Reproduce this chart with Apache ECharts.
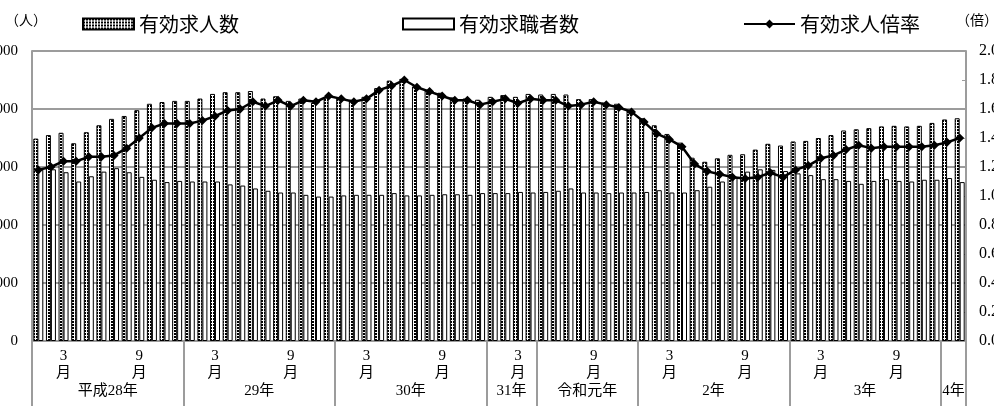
<!DOCTYPE html>
<html><head><meta charset="utf-8">
<script src="https://cdn.jsdelivr.net/npm/echarts@6/dist/echarts.min.js"></script>
<style>html,body{margin:0;padding:0;background:#fff}#c{width:994px;height:406px}</style>
</head><body><div id="c"></div>
<script>
// ---- data ----
const yearNames  = ['平成28年','29年','30年','31年','令和元年','2年','3年','4年'];
const yearStart  = [1,1,1,1,5,1,1,1];
const yearCount  = [12,12,12,4,8,12,12,2];
const shownMonths = [3, 9];

// 有効求人数 (persons)
const openings = [34900,35500,35900,34100,36000,37200,38300,38800,39800,40900,41200,41400,
                  41400,41800,42600,42900,42900,43100,41800,42200,41400,41800,41100,42000,
                  41900,41600,42100,43600,44900,45200,43900,43300,42800,42000,41800,41600,
                  42100,42400,42100,42600,
                  42500,42600,42500,41700,41700,41100,40900,39900,
                  38400,37200,35700,34200,31600,30900,31500,32100,32200,33000,34000,33700,
                  34400,34500,35000,35500,36300,36500,36700,37000,37100,37000,37100,37600,
                  38200,38400];
// 有効求職者数 (persons)
const seekers  = [29600,29600,29100,27500,28400,29200,29800,29100,28300,27800,27400,27600,
                  27500,27500,27500,27000,26800,26300,25900,25600,25600,25200,24900,24900,
                  25100,25200,25200,25200,25500,25100,25100,25200,25300,25300,25200,25500,
                  25500,25500,25700,25600,
                  25700,25900,26300,25600,25600,25500,25600,25600,
                  25700,26000,25600,25600,26000,26600,27500,28200,29200,29600,29500,29300,
                  28900,28600,27900,27900,27600,27100,27600,27900,27600,27500,27800,27800,
                  28100,27400];
// 有効求人倍率 (times)
const ratio    = [1.18,1.20,1.24,1.24,1.27,1.27,1.28,1.33,1.40,1.47,1.50,1.50,
                  1.50,1.52,1.55,1.59,1.60,1.65,1.62,1.66,1.62,1.66,1.65,1.69,
                  1.67,1.65,1.67,1.73,1.76,1.80,1.75,1.72,1.69,1.66,1.66,1.63,
                  1.65,1.67,1.64,1.67,
                  1.66,1.66,1.62,1.63,1.65,1.63,1.61,1.58,
                  1.51,1.43,1.39,1.34,1.22,1.17,1.15,1.13,1.12,1.13,1.16,1.13,
                  1.18,1.21,1.26,1.28,1.32,1.35,1.33,1.34,1.34,1.34,1.34,1.35,
                  1.37,1.40];

// ---- derived category structure ----
const months = [], monthNum = [];
yearNames.forEach((y, s) => {
  for (let k = 0; k < yearCount[s]; k++) {
    const m = yearStart[s] + k;
    months.push(y + m + '月'); monthNum.push(m);
  }
});
const boundaries = [0];
yearCount.forEach(c => boundaries.push(boundaries[boundaries.length - 1] + c));
const yearLabelAt = {};
yearNames.forEach((y, s) => { yearLabelAt[boundaries[s] + yearCount[s] / 2] = y; });
const boundaryAxis = [];
for (let i = 0; i <= months.length; i++) boundaryAxis.push(String(i));

// ---- styles ----
const pc = document.createElement('canvas');
pc.width = 3; pc.height = 3;
const g = pc.getContext('2d');
g.fillStyle = '#fff'; g.fillRect(0, 0, 3, 3);
g.fillStyle = '#000'; g.fillRect(0, 0, 2, 2);
const dots = { image: pc, repeat: 'repeat' };

const FONT = "'Liberation Serif', 'Noto Sans CJK JP', serif";
const CJK = "'Noto Sans CJK JP', sans-serif";
const GRAY = '#9c9c9c';

const chart = echarts.init(document.getElementById('c'), null, { renderer: 'canvas' });
chart.setOption({
  animation: false,
  title: [
    { text: '（人）', left: 0, top: 8, textStyle: { fontSize: 14, fontWeight: 'normal', color: '#000', fontFamily: CJK } },
    { text: '（倍）', left: 951, top: 8, textStyle: { fontSize: 14, fontWeight: 'normal', color: '#000', fontFamily: CJK } }
  ],
  legend: [
    { data: ['有効求人数'], left: 77, top: 9, icon: 'rect', itemWidth: 51, itemHeight: 11, selectedMode: false,
      textStyle: { fontSize: 20, color: '#000', fontFamily: CJK } },
    { data: ['有効求職者数'], left: 397, top: 9, icon: 'rect', itemWidth: 51, itemHeight: 11, selectedMode: false,
      textStyle: { fontSize: 20, color: '#000', fontFamily: CJK } },
    { data: ['有効求人倍率'], left: 738, top: 9, itemWidth: 51, itemHeight: 11, selectedMode: false,
      textStyle: { fontSize: 20, color: '#000', fontFamily: CJK } }
  ],
  grid: { left: 32, right: 28, top: 51, bottom: 65, containLabel: false, outerBoundsMode: 'none' },
  xAxis: [
    { type: 'category', data: months, position: 'bottom',
      axisLine: { show: true, lineStyle: { color: GRAY, width: 2 } },
      axisTick: { show: false },
      axisLabel: { interval: 0, margin: 7, fontSize: 15, lineHeight: 17, color: '#000', fontFamily: FONT,
        formatter: (v, i) => shownMonths.includes(monthNum[i]) ? monthNum[i] + '\n月' : '' } },
    { type: 'category', data: boundaryAxis, boundaryGap: false, position: 'bottom',
      axisLine: { show: false },
      axisTick: { show: true, inside: false, length: 66, interval: (i) => boundaries.includes(i),
        lineStyle: { color: GRAY, width: 2 } },
      axisLabel: { interval: (i) => yearLabelAt[i] !== undefined, margin: 43, fontSize: 15, color: '#000', fontFamily: FONT,
        formatter: (v, i) => yearLabelAt[i] || '' } }
  ],
  yAxis: [
    { type: 'value', min: 0, max: 50000, interval: 10000, position: 'left',
      axisLine: { show: true, lineStyle: { color: GRAY, width: 2 } },
      axisTick: { show: false },
      splitLine: { show: true, lineStyle: { color: GRAY, width: 2 } },
      axisLabel: { margin: 14, fontSize: 15, color: '#000', fontFamily: FONT,
        formatter: v => v.toLocaleString('en-US') } },
    { type: 'value', min: 0, max: 2, interval: 0.2, position: 'right',
      axisLine: { show: true, lineStyle: { color: GRAY, width: 2 } },
      axisTick: { show: true, inside: true, length: 4, lineStyle: { color: GRAY, width: 1 } },
      splitLine: { show: false },
      axisLabel: { margin: 13, fontSize: 16, color: '#000', fontFamily: FONT,
        formatter: v => v.toFixed(1) } }
  ],
  series: [
    { name: '有効求人数', type: 'bar', data: openings, xAxisIndex: 0, yAxisIndex: 0,
      barWidth: 5, barGap: '0%',
      itemStyle: { color: dots, borderColor: '#000', borderWidth: 1 } },
    { name: '有効求職者数', type: 'bar', data: seekers, xAxisIndex: 0, yAxisIndex: 0,
      barWidth: 5, barGap: '0%',
      itemStyle: { color: '#fff', borderColor: '#000', borderWidth: 1 } },
    { name: '有効求人倍率', type: 'line', data: ratio, xAxisIndex: 0, yAxisIndex: 1,
      symbol: 'diamond', symbolSize: 9, z: 5,
      lineStyle: { color: '#000', width: 2.5 }, itemStyle: { color: '#000' } }
  ]
});
</script></body></html>
